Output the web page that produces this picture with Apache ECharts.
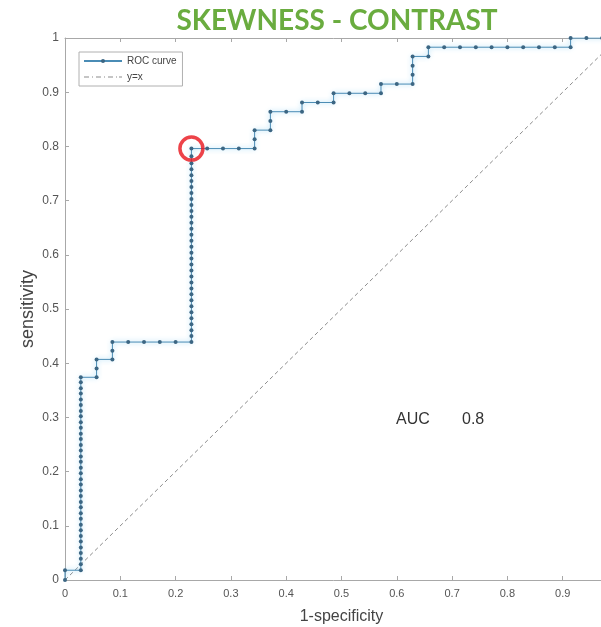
<!DOCTYPE html>
<html>
<head>
<meta charset="utf-8">
<script src="https://cdn.jsdelivr.net/npm/echarts@6/dist/echarts.min.js"></script>
<style>
  html, body { margin: 0; padding: 0; background: #fff; }
  #chart { width: 601px; height: 627px; }
</style>
</head>
<body>
<div id="chart"></div>
<script>
// ROC curve points: false positive rate (1-specificity) and true positive rate (sensitivity)
const fprValues = [
  0, 0, 0.0286,
  0.0286, 0.0286, 0.0286, 0.0286, 0.0286, 0.0286, 0.0286, 0.0286, 0.0286, 0.0286,
  0.0286, 0.0286, 0.0286, 0.0286, 0.0286, 0.0286, 0.0286, 0.0286, 0.0286, 0.0286,
  0.0286, 0.0286, 0.0286, 0.0286, 0.0286, 0.0286, 0.0286, 0.0286, 0.0286, 0.0286,
  0.0286, 0.0286, 0.0286, 0.0286,
  0.0571, 0.0571, 0.0571,
  0.0857, 0.0857, 0.0857,
  0.1143, 0.1429, 0.1714, 0.2000, 0.2286,
  0.2286, 0.2286, 0.2286, 0.2286, 0.2286, 0.2286, 0.2286, 0.2286, 0.2286, 0.2286,
  0.2286, 0.2286, 0.2286, 0.2286, 0.2286, 0.2286, 0.2286, 0.2286, 0.2286, 0.2286,
  0.2286, 0.2286, 0.2286, 0.2286, 0.2286, 0.2286, 0.2286, 0.2286, 0.2286, 0.2286,
  0.2286, 0.2286,
  0.2571, 0.2857, 0.3143, 0.3429,
  0.3429, 0.3429,
  0.3714, 0.3714, 0.3714,
  0.4000, 0.4286, 0.4286,
  0.4571, 0.4857, 0.4857,
  0.5143, 0.5429, 0.5714, 0.5714,
  0.6000, 0.6286, 0.6286, 0.6286, 0.6286,
  0.6571, 0.6571,
  0.6857, 0.7143, 0.7429, 0.7714, 0.8000, 0.8286, 0.8571, 0.8857, 0.9143,
  0.9143, 0.9429, 0.9714, 1.0000
];
const tprValues = [
  0, 0.018, 0.018,
  0.029, 0.039, 0.050, 0.060, 0.071, 0.081, 0.092, 0.102, 0.113, 0.123,
  0.134, 0.144, 0.155, 0.165, 0.176, 0.186, 0.197, 0.207, 0.218, 0.228,
  0.239, 0.249, 0.260, 0.270, 0.281, 0.291, 0.302, 0.312, 0.323, 0.333,
  0.344, 0.354, 0.365, 0.374,
  0.374, 0.390, 0.407,
  0.407, 0.423, 0.439,
  0.439, 0.439, 0.439, 0.439, 0.439,
  0.450, 0.461, 0.472, 0.483, 0.494, 0.505, 0.516, 0.527, 0.538, 0.549,
  0.560, 0.571, 0.582, 0.593, 0.604, 0.615, 0.626, 0.637, 0.648, 0.659,
  0.670, 0.681, 0.692, 0.703, 0.714, 0.725, 0.736, 0.747, 0.758, 0.769,
  0.782, 0.796,
  0.796, 0.796, 0.796, 0.796,
  0.813, 0.830,
  0.830, 0.847, 0.864,
  0.864, 0.864, 0.881,
  0.881, 0.881, 0.898,
  0.898, 0.898, 0.898, 0.915,
  0.915, 0.915, 0.932, 0.949, 0.966,
  0.966, 0.983,
  0.983, 0.983, 0.983, 0.983, 0.983, 0.983, 0.983, 0.983, 0.983,
  1.000, 1.000, 1.000, 1.000
];

// Reference diagonal y = x
const diagX = [0, 1];
const diagY = [0, 1];

// Highlighted operating point on the curve
const markedPoint = [0.2286, 0.796];

const aucValue = '0.8';
const chartTitle = 'SKEWNESS - CONTRAST';
const xAxisName = '1-specificity';
const yAxisName = 'sensitivity';

const rocData = fprValues.map((x, i) => [x, tprValues[i]]);
const diagData = diagX.map((x, i) => [x, diagY[i]]);

const tickFmt = v => String(+v.toFixed(1));
const axisColor = '#a8a8a8';
const labelColor = '#555';
const font = '"Liberation Sans", Arial, sans-serif';

// dash-dot legend sample for the diagonal (38 x 1 units)
const dashDotIcon = 'path://M0,0h5v1h-5zM8,0h1v1h-1zM12,0h5v1h-5zM20,0h1v1h-1zM24,0h5v1h-5zM32,0h1v1h-1zM35,0h3v1h-3z';

const chart = echarts.init(document.getElementById('chart'), null, { renderer: 'canvas' });

chart.setOption({
  backgroundColor: '#fff',
  animation: false,
  // the plot box runs past the right edge of the canvas
  grid: {
    left: 65, width: 553, top: 38, height: 542,
    containLabel: false, outerBoundsMode: 'none'
  },
  legend: {
    data: [
      { name: 'ROC curve' },
      { name: 'y=x', icon: dashDotIcon }
    ],
    orient: 'vertical',
    left: 79,
    top: 52,
    backgroundColor: '#fff',
    borderColor: '#b0b0b0',
    borderWidth: 1,
    borderRadius: 0,
    padding: [4, 6, 4, 4],
    itemWidth: 38,
    itemHeight: 5,
    itemGap: 6,
    textStyle: { fontSize: 10, color: '#444', fontFamily: font }
  },
  xAxis: [
    {
      type: 'value', min: 0, max: 1, interval: 0.1,
      name: xAxisName, nameLocation: 'middle', nameGap: 29,
      nameTextStyle: { fontSize: 16, color: '#444', fontFamily: font },
      axisLine: { show: true, lineStyle: { color: axisColor } },
      axisTick: { show: true, inside: true, length: 4, lineStyle: { color: axisColor } },
      axisLabel: { formatter: tickFmt, fontSize: 11, color: labelColor, margin: 8, fontFamily: font },
      splitLine: { show: false }
    },
    {
      type: 'value', min: 0, max: 1, interval: 0.1, position: 'top',
      axisLine: { show: true, lineStyle: { color: axisColor } },
      axisTick: { show: true, inside: true, length: 4, lineStyle: { color: axisColor } },
      axisLabel: { show: false },
      splitLine: { show: false }
    }
  ],
  yAxis: [
    {
      type: 'value', min: 0, max: 1, interval: 0.1,
      name: yAxisName, nameLocation: 'middle', nameGap: 28, nameRotate: 90,
      nameMoveOverlap: false,
      nameTextStyle: { fontSize: 18, color: '#444', fontFamily: font },
      axisLine: { show: true, lineStyle: { color: axisColor } },
      axisTick: { show: true, inside: true, length: 4, lineStyle: { color: axisColor } },
      axisLabel: { formatter: tickFmt, fontSize: 12, color: labelColor, margin: 6, fontFamily: font },
      splitLine: { show: false }
    }
  ],
  series: [
    {
      name: 'ROC curve',
      type: 'line',
      data: rocData,
      symbol: 'circle',
      symbolSize: 4,
      showAllSymbol: true,
      lineStyle: {
        color: '#4a8cb5', width: 1,
        shadowColor: 'rgba(110,195,240,0.9)', shadowBlur: 5
      },
      itemStyle: { color: '#3c6683', borderWidth: 0 },
      z: 3
    },
    {
      name: 'y=x',
      type: 'line',
      data: diagData,
      symbol: 'none',
      lineStyle: { color: '#8c8c8c', width: 1, type: [4, 3] },
      itemStyle: { color: '#8c8c8c' },
      z: 2
    },
    {
      name: 'marker',
      type: 'scatter',
      data: [markedPoint],
      symbol: 'circle',
      symbolSize: 23,
      itemStyle: { color: 'rgba(0,0,0,0)', borderColor: '#e8141c', borderWidth: 3.5 },
      z: 5,
      silent: true
    }
  ],
  graphic: [
    {
      type: 'text',
      style: {
        x: 337, y: 21, text: chartTitle,
        font: 'bold 28px Lato, "Open Sans", sans-serif',
        fill: '#6aac3f', textAlign: 'center', textVerticalAlign: 'middle'
      }
    },
    {
      type: 'text',
      style: {
        x: 396, y: 420, text: 'AUC',
        font: '16px "Liberation Sans", Arial, sans-serif',
        fill: '#333', textVerticalAlign: 'middle'
      }
    },
    {
      type: 'text',
      style: {
        x: 462, y: 420, text: aucValue,
        font: '16px "Liberation Sans", Arial, sans-serif',
        fill: '#333', textVerticalAlign: 'middle'
      }
    }
  ]
});
</script>
</body>
</html>
